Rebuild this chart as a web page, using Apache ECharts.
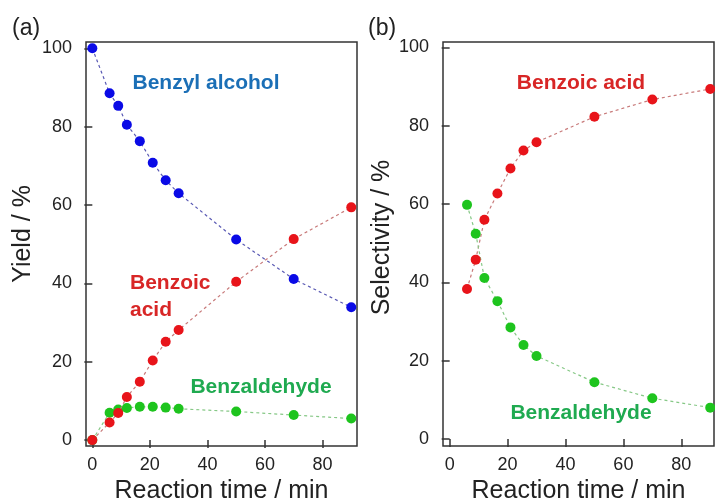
<!DOCTYPE html>
<html>
<head>
<meta charset="utf-8">
<script src="https://cdn.jsdelivr.net/npm/echarts@6/dist/echarts.min.js"></script>
<style>
  html, body { margin: 0; padding: 0; background: #fff; }
  #chart { width: 715px; height: 502px; }
</style>
</head>
<body>
<div id="chart"></div>
<script>
// reaction times (min)
const timeMin = [0, 6, 9, 12, 16.5, 21, 25.5, 30, 50, 70, 90];
// (a) yield, %
const yieldAlcohol = [100, 88.5, 85.3, 80.5, 76.3, 70.8, 66.3, 63.0, 51.2, 41.1, 33.9];
const yieldAcid = [0, 4.5, 6.9, 11.0, 14.9, 20.3, 25.1, 28.1, 40.4, 51.3, 59.4];
const yieldAldehyde = [0, 7.0, 7.8, 8.2, 8.5, 8.5, 8.3, 8.0, 7.3, 6.4, 5.5];
// (b) selectivity, % (from 6 min on)
const selTime = timeMin.slice(1);
const selAcid = [38.3, 45.8, 56.0, 62.7, 69.1, 73.7, 75.8, 82.3, 86.7, 89.4];
const selAldehyde = [59.8, 52.4, 41.1, 35.2, 28.5, 24.0, 21.2, 14.5, 10.4, 8.0];

const xTicks = [0, 20, 40, 60, 80];
const yTicks = [0, 20, 40, 60, 80, 100];

const FONT = '"Liberation Sans", Arial, sans-serif';
const INK = '#222';

const pairs = (xs, ys) => xs.map((x, i) => [x, ys[i]]);

function series(data, idx, marker, lineColor, z) {
  return {
    type: 'line',
    xAxisIndex: idx,
    yAxisIndex: idx,
    data,
    z,
    symbol: 'circle',
    symbolSize: 10,
    itemStyle: { color: marker },
    lineStyle: { color: lineColor, width: 1.2, type: [3, 3] },
    animation: false,
  };
}

function xAxis(idx, min, max) {
  return {
    type: 'value',
    gridIndex: idx,
    min, max,
    name: 'Reaction time / min',
    nameLocation: 'middle',
    nameGap: 30,
    nameTextStyle: { fontSize: 25, color: INK, fontFamily: FONT },
    axisLine: { show: false },
    axisTick: { show: true, length: 8, customValues: xTicks, lineStyle: { color: '#333', width: 1.5 } },
    axisLabel: { customValues: xTicks, fontSize: 18, color: INK, fontFamily: FONT, margin: 10 },
    splitLine: { show: false },
  };
}

function yAxis(idx, min, max, name, gap, shift) {
  return {
    type: 'value',
    gridIndex: idx,
    min, max,
    name,
    nameLocation: 'middle',
    nameGap: gap,
    nameTextStyle: { fontSize: 25, color: INK, fontFamily: FONT, padding: [0, 0, 0, shift] },
    axisLine: { show: false },
    axisTick: { show: true, length: 8, customValues: yTicks, lineStyle: { color: '#333', width: 1.5 } },
    axisLabel: { customValues: yTicks, fontSize: 18, color: INK, fontFamily: FONT, margin: 14 },
    splitLine: { show: false },
  };
}

function label(text, x, y, color, align) {
  return {
    type: 'text',
    x, y,
    style: {
      text,
      fill: color,
      font: 'bold 21px ' + FONT,
      textAlign: align || 'center',
      textVerticalAlign: 'middle',
    },
  };
}

const chart = echarts.init(document.getElementById('chart'));
chart.setOption({
  backgroundColor: '#fff',
  animation: false,
  grid: [
    { left: 86, right: 358, top: 42, bottom: 56, show: true, borderColor: '#333', borderWidth: 1.5, outerBoundsMode: 'none' },
    { left: 443, right: 1, top: 42, bottom: 56, show: true, borderColor: '#333', borderWidth: 1.5, outerBoundsMode: 'none' },
  ],
  xAxis: [xAxis(0, -2.2, 92), xAxis(1, -2.3, 91.3)],
  yAxis: [
    yAxis(0, -1.5, 101.6, 'Yield / %', 50, 20),
    yAxis(1, -1.8, 101.4, 'Selectivity / %', 47, 13),
  ],
  series: [
    series(pairs(timeMin, yieldAlcohol), 0, '#0a0ae6', '#5a5ab4', 3),
    series(pairs(timeMin, yieldAldehyde), 0, '#1ec41e', '#86c886', 2),
    series(pairs(timeMin, yieldAcid), 0, '#e8141a', '#c87a7a', 4),
    series(pairs(selTime, selAcid), 1, '#e8141a', '#c87a7a', 3),
    series(pairs(selTime, selAldehyde), 1, '#1ec41e', '#86c886', 3),
  ],
  graphic: [
    { type: 'text', x: 12, y: 29, style: { text: '(a)', fill: INK, font: '23px ' + FONT, textVerticalAlign: 'middle' } },
    { type: 'text', x: 368, y: 29, style: { text: '(b)', fill: INK, font: '23px ' + FONT, textVerticalAlign: 'middle' } },
    label('Benzyl alcohol', 206, 83, '#1b6fb6'),
    label('Benzoic', 130, 283, '#d82626', 'left'),
    label('acid', 130, 310, '#d82626', 'left'),
    label('Benzaldehyde', 261, 387, '#1faa50'),
    label('Benzoic acid', 581, 83, '#d82626'),
    label('Benzaldehyde', 581, 413, '#1faa50'),
  ],
});
</script>
</body>
</html>
